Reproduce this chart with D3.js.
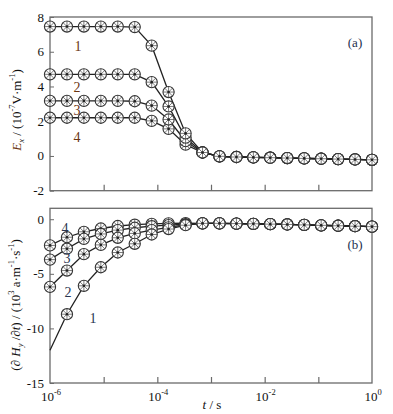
<!DOCTYPE html>
<html><head><meta charset="utf-8">
<script src="https://cdn.jsdelivr.net/npm/d3@7"></script>
<style>
body{margin:0;background:#fff;}
svg{display:block;font-family:"Liberation Serif","Times New Roman",serif;}
</style></head>
<body><svg id="c" width="393" height="414"></svg>
<script>
// ---- data ----
const times = [1e-6, 2.07e-6, 4.28e-6, 8.86e-6, 1.83e-5, 3.79e-5, 7.85e-5, 1.62e-4, 3.36e-4, 6.95e-4,
               1.44e-3, 2.98e-3, 6.16e-3, 1.27e-2, 2.64e-2, 5.46e-2, 0.113, 0.234, 0.483, 1];
const seriesNames = ["1", "2", "3", "4"];
const ex1 = [7.45, 7.45, 7.45, 7.45, 7.45, 7.42, 6.35, 3.68, 1.3, 0.2, -0.02, -0.06, -0.08, -0.1, -0.12, -0.14, -0.16, -0.18, -0.2, -0.22];
const ex2 = [4.7, 4.7, 4.7, 4.7, 4.7, 4.7, 4.25, 2.85, 1.05, 0.2, -0.02, -0.06, -0.08, -0.1, -0.12, -0.14, -0.16, -0.18, -0.2, -0.22];
const ex3 = [3.17, 3.17, 3.17, 3.17, 3.17, 3.15, 2.9, 2.1, 0.85, 0.2, -0.02, -0.06, -0.08, -0.1, -0.12, -0.14, -0.16, -0.18, -0.2, -0.22];
const ex4 = [2.2, 2.2, 2.2, 2.2, 2.2, 2.2, 2.02, 1.56, 0.65, 0.2, -0.02, -0.06, -0.08, -0.1, -0.12, -0.14, -0.16, -0.18, -0.2, -0.22];
const dh1 = [-12, -8.7, -6.1, -4.4, -3.05, -2.25, -1.4, -0.9, -0.55, -0.38, -0.38, -0.4, -0.42, -0.45, -0.48, -0.52, -0.56, -0.6, -0.64, -0.68];
const dh2 = [-6.2, -4.7, -3.2, -2.35, -1.7, -1.3, -1.0, -0.75, -0.5, -0.38, -0.38, -0.4, -0.42, -0.45, -0.48, -0.52, -0.56, -0.6, -0.64, -0.68];
const dh3 = [-3.7, -2.7, -1.8, -1.35, -1.0, -0.78, -0.64, -0.54, -0.45, -0.38, -0.38, -0.4, -0.42, -0.45, -0.48, -0.52, -0.56, -0.6, -0.64, -0.68];
const dh4 = [-2.4, -1.65, -1.15, -0.85, -0.62, -0.5, -0.42, -0.38, -0.36, -0.38, -0.38, -0.4, -0.42, -0.45, -0.48, -0.52, -0.56, -0.6, -0.64, -0.68];
const dh1NoMarkerFirst = true;
const xTickValues = [1e-6, 1e-5, 1e-4, 1e-3, 1e-2, 1e-1, 1];
const xLabelExps = [-6, -4, -2, 0];
const yTicksA = [-2, 0, 2, 4, 6, 8];
const yTicksB = [-15, -10, -5, 0];

// ---- layout ----
const svg = d3.select("#c");
const X0 = 50, X1 = 372;
const x = d3.scaleLog().domain([1e-6, 1]).range([X0, X1]);
const yA = d3.scaleLinear().domain([-2, 8]).range([190.7, 17]);
const yB = d3.scaleLinear().domain([-15, 1]).range([383, 208.3]);
const frameColor = "#6a6a6a";
const lineColor = "#222";

function frame(y) {
  const [b, t] = y.range();
  svg.append("rect").attr("x", X0).attr("y", t).attr("width", X1 - X0).attr("height", b - t)
    .attr("fill", "none").attr("stroke", frameColor).attr("stroke-width", 1.3);
  const gx = svg.append("g").attr("transform", `translate(0,${b})`)
    .call(d3.axisTop(x).tickValues(xTickValues.slice(1, -1)).tickSize(6).tickFormat(""));
  gx.select(".domain").remove();
  gx.selectAll("line").attr("stroke", frameColor).attr("stroke-width", 1.2);
}
function yAxis(y, ticks) {
  const g = svg.append("g").attr("transform", `translate(${X0},0)`)
    .call(d3.axisRight(y).tickValues(ticks).tickSize(4).tickFormat(""));
  g.select(".domain").remove();
  g.selectAll("line").attr("stroke", frameColor);
  svg.append("g").selectAll("text").data(ticks).join("text")
    .attr("x", X0 - 6).attr("y", d => y(d) + 4.5).attr("text-anchor", "end")
    .attr("font-size", 13).attr("fill", "#111").text(d => d);
}
frame(yA); frame(yB);
yAxis(yA, yTicksA); yAxis(yB, yTicksB);

// x labels with superscripts
const xl = svg.append("g").selectAll("text").data(xLabelExps).join("text")
  .attr("x", d => x(Math.pow(10, d)) + 1).attr("y", 401).attr("text-anchor", "middle")
  .attr("font-size", 13).attr("fill", "#111");
xl.append("tspan").text("10");
xl.append("tspan").attr("dy", -6).attr("font-size", 8.5).text(d => d);

// lines and markers
function marker(g, cx, cy) {
  const r = 5.6;
  const m = g.append("g").attr("transform", `translate(${cx},${cy})`);
  m.append("circle").attr("r", r).attr("fill", "#fff").attr("stroke", "#333").attr("stroke-width", 1.1);
  for (let k = 0; k < 4; k++) {
    const a = k * Math.PI / 4;
    m.append("line").attr("x1", -r * Math.cos(a)).attr("y1", -r * Math.sin(a))
      .attr("x2", r * Math.cos(a)).attr("y2", r * Math.sin(a))
      .attr("stroke", "#444").attr("stroke-width", 0.7);
  }
  m.append("circle").attr("r", 1.3).attr("fill", "#222");
}
function drawSeries(y, list, skipFirst) {
  const line = d3.line().x((d, i) => x(times[i])).y(d => y(d));
  const gl = svg.append("g");
  list.forEach(vals => gl.append("path").attr("d", line(vals)).attr("fill", "none")
    .attr("stroke", lineColor).attr("stroke-width", 1.3));
  const gm = svg.append("g");
  list.slice().reverse().forEach((vals, ri) => {
    const si = list.length - 1 - ri;
    vals.forEach((v, i) => {
      if (i === 0 && skipFirst[si]) return;
      marker(gm, x(times[i]), y(v));
    });
  });
}
drawSeries(yA, [ex1, ex2, ex3, ex4], [false, false, false, false]);
drawSeries(yB, [dh1, dh2, dh3, dh4], [dh1NoMarkerFirst, false, false, false]);

// curve labels
const labA = [[78, 51], [77, 92], [77, 115], [77, 142]];
svg.append("g").selectAll("text").data(seriesNames).join("text")
  .attr("x", (d, i) => labA[i][0]).attr("y", (d, i) => labA[i][1]).attr("text-anchor", "middle")
  .attr("font-size", 14).attr("fill", "#6b3512").text(d => d);
const labB = [[93, 323], [68, 297], [67, 263], [65, 233]];
svg.append("g").selectAll("text").data(seriesNames).join("text")
  .attr("x", (d, i) => labB[i][0]).attr("y", (d, i) => labB[i][1]).attr("text-anchor", "middle")
  .attr("font-size", 14).attr("fill", "#2a3550").text(d => d);

svg.append("text").attr("x", 355).attr("y", 47).attr("text-anchor", "middle").attr("font-size", 13)
  .attr("fill", "#23304f").text("(a)");
svg.append("text").attr("x", 355).attr("y", 249).attr("text-anchor", "middle").attr("font-size", 13)
  .attr("fill", "#23304f").text("(b)");

// x title
const xt = svg.append("text").attr("x", 212).attr("y", 409).attr("text-anchor", "middle")
  .attr("font-size", 13).attr("fill", "#111");
xt.append("tspan").attr("font-style", "italic").text("t");
xt.append("tspan").text(" / s");

// y title a
const ta = svg.append("text").attr("transform", "translate(21,110) rotate(-90)")
  .attr("text-anchor", "middle").attr("font-size", 13).attr("fill", "#111");
ta.append("tspan").attr("font-style", "italic").attr("fill", "#6b3512").text("E");
ta.append("tspan").attr("font-size", 8.5).attr("dy", 3).attr("font-style", "italic").text("x");
ta.append("tspan").attr("dy", -3).text(" / (10");
ta.append("tspan").attr("font-size", 8.5).attr("dy", -6).text("-7");
ta.append("tspan").attr("dy", 6).text("V·m");
ta.append("tspan").attr("font-size", 8.5).attr("dy", -6).text("-1");
ta.append("tspan").attr("dy", 6).text(")");

// y title b
const tb = svg.append("text").attr("transform", "translate(20,305) rotate(-90)")
  .attr("text-anchor", "middle").attr("font-size", 13).attr("fill", "#111");
tb.append("tspan").text("(");
tb.append("tspan").attr("font-weight", "bold").text("∂");
tb.append("tspan").attr("font-style", "italic").text(" H");
tb.append("tspan").attr("font-size", 8.5).attr("dy", 3).attr("font-style", "italic").text("y");
tb.append("tspan").attr("dy", -3).text(" /");
tb.append("tspan").attr("font-weight", "bold").text("∂");
tb.append("tspan").attr("font-style", "italic").text("t");
tb.append("tspan").text(") / (10");
tb.append("tspan").attr("font-size", 8.5).attr("dy", -6).text("3");
tb.append("tspan").attr("dy", 6).text(" a·m");
tb.append("tspan").attr("font-size", 8.5).attr("dy", -6).text("-1");
tb.append("tspan").attr("dy", 6).text("·s");
tb.append("tspan").attr("font-size", 8.5).attr("dy", -6).text("-1");
tb.append("tspan").attr("dy", 6).text(")");
</script></body></html>
